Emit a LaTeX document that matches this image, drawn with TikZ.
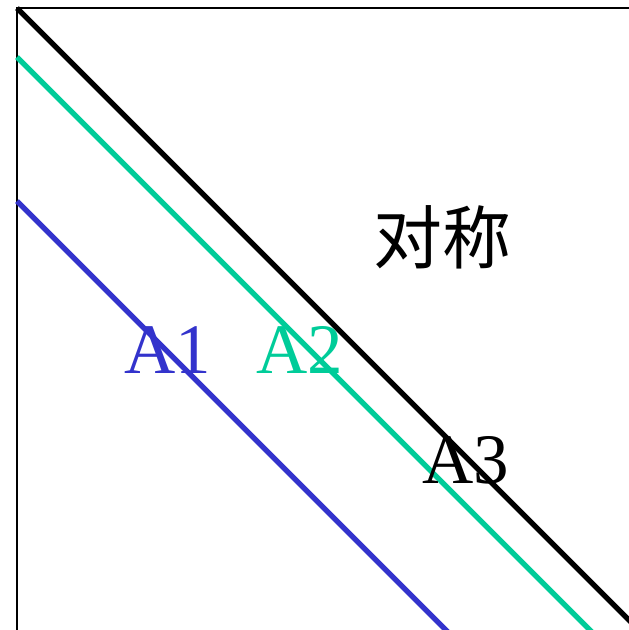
\documentclass[tikz,border=0pt]{standalone}
\usepackage{fontspec}
\setmainfont{Liberation Serif}
\newfontfamily\cjk{Noto Sans CJK SC}
\definecolor{lblue}{RGB}{51,51,204}
\definecolor{lgreen}{RGB}{0,204,153}
\begin{document}
\begin{tikzpicture}[x=1pt,y=-1pt,
  frame/.style={line width=1.6pt,black},
  diag/.style={line width=5.3pt},
  lab/.style={anchor=base,inner sep=0pt,font=\fontsize{71}{71}\selectfont}]
\useasboundingbox (0,0) rectangle (629,630);
\clip (0,0) rectangle (629,630);
\coordinate (o) at (17,8);
\coordinate (tr) at (629,8);
\coordinate (bl) at (17,630);
\draw[frame] (tr) -- (o) -- (bl);
\coordinate (k1) at (17,8);
\coordinate (k2) at (641,632);
\coordinate (g1) at (17,57);
\coordinate (g2) at (600,640);
\coordinate (b1) at (17,201);
\coordinate (b2) at (460,644);
\draw[diag,lblue] (b1) -- (b2);
\draw[diag,lgreen] (g1) -- (g2);
\draw[diag,black] (k1) -- (k2);
\node[lab,text=lblue] (a1) at (168,373) {A1};
\node[lab,text=lgreen] (a2) at (300,373) {A2};
\node[lab,text=black] (a3) at (466,483) {A3};
\node[anchor=base,inner sep=0pt,font=\cjk\fontsize{69}{69}\selectfont] (sym) at (442,263) {对称};
\end{tikzpicture}
\end{document}
